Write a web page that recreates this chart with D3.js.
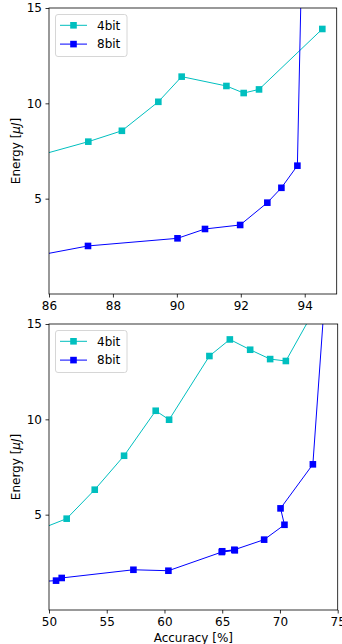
<!DOCTYPE html>
<html>
<head>
<meta charset="utf-8">
<script src="https://cdn.jsdelivr.net/npm/d3@7"></script>
<style>
  body { margin: 0; background: #fff; }
  svg { display: block; font-family: "DejaVu Sans", sans-serif; }
</style>
</head>
<body>
<div class="chart"></div>
<script>
// top panel data (accuracy %, energy uJ)
const top4x = [84.5, 87.23, 88.28, 89.42, 90.15, 91.55, 92.09, 92.57, 94.55];
const top4y = [6.72, 7.99, 8.56, 10.08, 11.40, 10.91, 10.54, 10.73, 13.90];
const top8x = [84.0, 87.22, 90.02, 90.88, 91.98, 92.83, 93.27, 93.77, 93.95];
const top8y = [1.50, 2.52, 2.92, 3.41, 3.62, 4.79, 5.57, 6.73, 21.0];

// bottom panel data
const bot4x = [48.0, 51.53, 53.96, 56.50, 59.24, 60.40, 63.89, 65.66, 67.42, 69.15, 70.51, 73.5];
const bot4y = [3.95, 4.79, 6.31, 8.09, 10.45, 9.98, 13.32, 14.19, 13.65, 13.16, 13.06, 16.3];
const bot8x = [48.0, 50.61, 51.10, 57.31, 60.34, 64.96, 66.09, 65.0, 66.05, 68.63, 70.39, 70.05, 72.85, 74.3];
const bot8y = [1.45, 1.54, 1.68, 2.11, 2.06, 3.04, 3.13, 3.08, 3.16, 3.69, 4.47, 5.33, 7.64, 20.0];

const topXTicks = [86, 88, 90, 92, 94];
const botXTicks = [50, 55, 60, 65, 70, 75];
const yTicks = [5, 10, 15];
const seriesNames = ["4bit", "8bit"];
const colors = ["#00bfbf", "#0000ff"];

const W = 342, H = 644;
const svg = d3.select(".chart").append("svg")
    .attr("width", W)
    .attr("height", H);

function panel(id, box, xdom, xticks, s4x, s4y, s8x, s8y, xlabel) {
    const x = d3.scaleLinear().domain(xdom).range([box.left, box.right]);
    const y = d3.scaleLinear().domain([0, 15]).range([box.bottom, box.top]);

    svg.append("clipPath").attr("id", id)
        .append("rect")
        .attr("x", box.left).attr("y", box.top)
        .attr("width", box.right - box.left)
        .attr("height", box.bottom - box.top);

    const plot = svg.append("g").attr("clip-path", `url(#${id})`);
    const series = [
        d3.zip(s4x, s4y),
        d3.zip(s8x, s8y)
    ];
    const line = d3.line().x(d => x(d[0])).y(d => y(d[1]));
    series.forEach((pts, i) => {
        plot.append("path")
            .attr("d", line(pts))
            .attr("fill", "none")
            .attr("stroke", colors[i])
            .attr("stroke-width", 1);
        plot.selectAll(null).data(pts).enter()
            .append("rect")
            .attr("x", d => x(d[0]) - 3.3)
            .attr("y", d => y(d[1]) - 3.3)
            .attr("width", 6.6)
            .attr("height", 6.6)
            .attr("fill", colors[i]);
    });

    // axes
    const xAxis = d3.axisBottom(x).tickValues(xticks).tickSize(3.5).tickPadding(3.5).tickSizeOuter(0);
    const yAxis = d3.axisLeft(y).tickValues(yTicks).tickSize(3.5).tickPadding(3.5).tickSizeOuter(0);
    const gx = svg.append("g")
        .attr("transform", `translate(0,${box.bottom})`)
        .call(xAxis);
    const gy = svg.append("g")
        .attr("transform", `translate(${box.left},0)`)
        .call(yAxis);
    [gx, gy].forEach(g => {
        g.attr("font-size", 12).attr("font-family", "DejaVu Sans, sans-serif");
        g.select(".domain").remove();
        g.selectAll(".tick line").attr("stroke", "#000").attr("stroke-width", 0.8);
        g.selectAll(".tick text").attr("fill", "#000");
    });

    // frame
    svg.append("rect")
        .attr("x", box.left).attr("y", box.top)
        .attr("width", box.right - box.left)
        .attr("height", box.bottom - box.top)
        .attr("fill", "none")
        .attr("stroke", "#000")
        .attr("stroke-width", 0.8);

    // y label
    const cy = (box.top + box.bottom) / 2;
    const yl = svg.append("text")
        .attr("transform", `translate(20,${cy}) rotate(-90)`)
        .attr("text-anchor", "middle")
        .attr("font-size", 12);
    yl.append("tspan").text("Energy [");
    yl.append("tspan").attr("font-style", "italic").text("\u03bcJ");
    yl.append("tspan").text("]");

    if (xlabel) {
        svg.append("text")
            .attr("x", (box.left + box.right) / 2)
            .attr("y", box.bottom + 32)
            .attr("text-anchor", "middle")
            .attr("font-size", 12)
            .text(xlabel);
    }

    // legend
    const lg = svg.append("g").attr("transform", `translate(${box.left + 6.5},${box.top + 6.5})`);
    lg.append("rect")
        .attr("width", 71.5).attr("height", 42)
        .attr("rx", 2.5)
        .attr("fill", "#fff").attr("fill-opacity", 0.8)
        .attr("stroke", "#cccccc").attr("stroke-width", 0.8);
    seriesNames.forEach((name, i) => {
        const ry = 10.8 + i * 18.8;
        lg.append("line")
            .attr("x1", 4.5).attr("x2", 31.5)
            .attr("y1", ry).attr("y2", ry)
            .attr("stroke", colors[i]).attr("stroke-width", 1);
        lg.append("rect")
            .attr("x", 18 - 3.3).attr("y", ry - 3.3)
            .attr("width", 6.6).attr("height", 6.6)
            .attr("fill", colors[i]);
        lg.append("text")
            .attr("x", 41.5).attr("y", ry + 4.3)
            .attr("font-size", 12)
            .text(name);
    });
}

panel("clipTop", {left: 49, right: 336.7, top: 8, bottom: 294}, [86, 95], topXTicks,
      top4x, top4y, top8x, top8y, null);
panel("clipBot", {left: 49, right: 337.7, top: 324, bottom: 610}, [50, 75], botXTicks,
      bot4x, bot4y, bot8x, bot8y, "Accuracy [%]");
</script>
</body>
</html>
